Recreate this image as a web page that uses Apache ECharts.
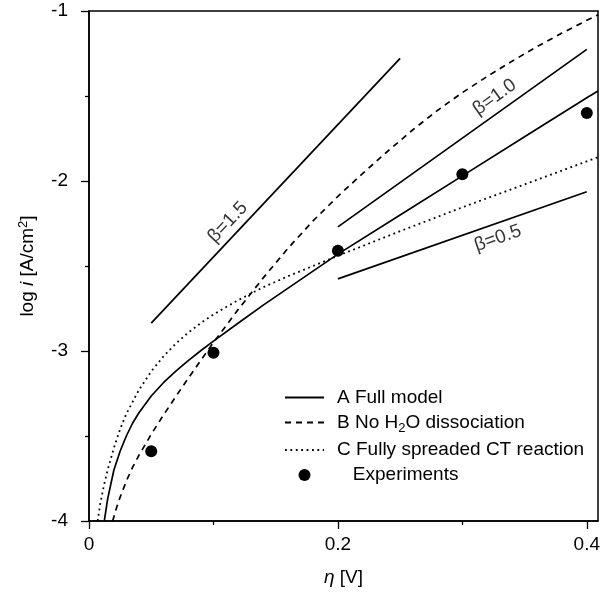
<!DOCTYPE html>
<html>
<head>
<meta charset="utf-8">
<script src="https://cdn.jsdelivr.net/npm/echarts@6/dist/echarts.min.js"></script>
<style>
html,body{margin:0;padding:0;background:#fff;}
#c{width:604px;height:596px;}
</style>
</head>
<body>
<div id="c"></div>
<script>
// ---- data ----
const xTickLabels = [0, 0.2, 0.4];
const xMinorTicks = [0.1, 0.3];

const etaA = [0.0123, 0.015, 0.02, 0.025, 0.03, 0.035, 0.04, 0.05, 0.06, 0.07, 0.08, 0.09, 0.10, 0.12, 0.14, 0.16, 0.18, 0.20, 0.25, 0.30, 0.35, 0.40, 0.409];
const logA = [-4.00, -3.87, -3.70, -3.59, -3.50, -3.425, -3.365, -3.265, -3.185, -3.117, -3.055, -2.997, -2.942, -2.835, -2.73, -2.63, -2.53, -2.43, -2.20, -1.97, -1.74, -1.51, -1.47];

const etaB = [0.019, 0.022, 0.025, 0.03, 0.035, 0.04, 0.05, 0.06, 0.07, 0.08, 0.09, 0.10, 0.12, 0.14, 0.16, 0.18, 0.20, 0.22, 0.24, 0.26, 0.28, 0.30, 0.32, 0.34, 0.36, 0.38, 0.40, 0.409];
const logB = [-4.00, -3.925, -3.86, -3.765, -3.685, -3.615, -3.49, -3.375, -3.265, -3.158, -3.053, -2.95, -2.755, -2.57, -2.395, -2.235, -2.09, -1.955, -1.825, -1.70, -1.585, -1.48, -1.385, -1.295, -1.21, -1.13, -1.055, -1.022];

const etaC = [0.007, 0.009, 0.012, 0.015, 0.02, 0.025, 0.03, 0.04, 0.05, 0.06, 0.07, 0.08, 0.09, 0.10, 0.12, 0.14, 0.16, 0.18, 0.20, 0.25, 0.30, 0.35, 0.409];
const logC = [-4.00, -3.90, -3.79, -3.70, -3.57, -3.46, -3.37, -3.23, -3.12, -3.03, -2.955, -2.89, -2.835, -2.785, -2.70, -2.625, -2.56, -2.50, -2.44, -2.295, -2.155, -2.02, -1.86];

const etaExp = [0.05, 0.1, 0.2, 0.3, 0.4];
const logExp = [-3.59, -3.01, -2.41, -1.96, -1.60];

// Tafel reference lines: [eta, log i] endpoints
const beta15 = [[0.05, -2.836], [0.25, -1.279]];
const beta10 = [[0.2, -2.27], [0.4, -1.226]];
const beta05 = [[0.2, -2.576], [0.4, -2.063]];
const betaLabels = ['β=1.5', 'β=1.0', 'β=0.5'];
const betaLabelPos = [[0.1116, -2.243], [0.326, -1.507], [0.3285, -2.337]];
const betaLabelRot = [46.7, 35.5, 19.3];

const seriesNames = ['A Full model', 'B No H2O dissociation', 'C Fully spreaded CT reaction', 'Experiments'];

// ---- chart ----
const FONT = 'Liberation Sans, Arial, Helvetica, sans-serif';
const FS = 19;
const zip = (a, b) => a.map((v, i) => [v, b[i]]);
const chart = echarts.init(document.getElementById('c'), null, {renderer: 'canvas'});

const lineBase = {type: 'line', symbol: 'none', showSymbol: false, smooth: false, clip: true, z: 3};

chart.setOption({
  animation: false,
  backgroundColor: '#fff',
  textStyle: {fontFamily: FONT, color: '#000'},
  grid: {left: 89, right: 6, top: 11, bottom: 75, show: true, borderColor: '#000', borderWidth: 1.5, backgroundColor: 'transparent'},
  xAxis: [{
    type: 'value', min: 0, max: 0.409, position: 'bottom',
    axisLine: {show: true, onZero: false, lineStyle: {color: '#000', width: 1.5}},
    axisTick: {show: true, inside: false, length: 8, customValues: xTickLabels, lineStyle: {color: '#000', width: 1.3}},
    axisLabel: {customValues: xTickLabels, margin: 14, fontSize: FS, color: '#000', fontFamily: FONT,
      formatter: v => (v === 0 ? '0' : String(v))},
    splitLine: {show: false},
    name: '{it|η} [V]', nameLocation: 'middle', nameGap: 47,
    nameTextStyle: {fontSize: FS, color: '#000', fontFamily: FONT,
      rich: {it: {fontStyle: 'italic', fontSize: FS, fontFamily: FONT}}}
  }, {
    type: 'value', min: 0, max: 0.409, position: 'bottom',
    axisLine: {show: false},
    axisTick: {show: true, inside: false, length: 4, customValues: xMinorTicks, lineStyle: {color: '#000', width: 1.3}},
    axisLabel: {show: false},
    splitLine: {show: false}
  }],
  yAxis: {
    type: 'value', min: -4, max: -1, interval: 1,
    axisLine: {show: true, onZero: false, lineStyle: {color: '#000', width: 1.5}},
    axisTick: {show: true, inside: false, length: 8, lineStyle: {color: '#000', width: 1.3}},
    minorTick: {show: true, splitNumber: 2, length: 4, lineStyle: {color: '#000', width: 1.3}},
    axisLabel: {margin: 21, fontSize: FS, color: '#000', fontFamily: FONT},
    splitLine: {show: false},
    name: 'log {it|i} [A/cm{sup|2}]', nameLocation: 'middle', nameGap: 50, nameRotate: 90,
    nameTextStyle: {fontSize: FS, color: '#000', fontFamily: FONT,
      rich: {it: {fontStyle: 'italic', fontSize: FS, fontFamily: FONT},
             sup: {fontSize: 13, verticalAlign: 'bottom', padding: [0, 0, 9, 0], fontFamily: FONT}}}
  },
  legend: {
    orient: 'vertical', left: 279, top: 383, itemWidth: 39, itemHeight: 12, itemGap: 6,
    data: [
      {name: seriesNames[0], itemStyle: {opacity: 0}},
      {name: seriesNames[1], itemStyle: {opacity: 0}},
      {name: seriesNames[2], itemStyle: {opacity: 0}},
      {name: seriesNames[3], itemStyle: {opacity: 1}}
    ],
    textStyle: {fontSize: FS, color: '#000', fontFamily: FONT, padding: [0, 0, 0, 8],
      rich: {sub: {fontSize: 13, verticalAlign: 'top', padding: [11, 0, 0, 0], fontFamily: FONT}}},
    formatter: n => n === seriesNames[1] ? 'B No H{sub|2}O dissociation' : (n === seriesNames[3] ? '   ' + n : n)
  },
  series: [
    Object.assign({}, lineBase, {name: seriesNames[0], data: zip(etaA, logA), lineStyle: {color: '#000', width: 1.7, type: 'solid'}, itemStyle: {color: '#000'}}),
    Object.assign({}, lineBase, {name: seriesNames[1], data: zip(etaB, logB), lineStyle: {color: '#000', width: 1.7, type: [6, 5]}, itemStyle: {color: '#000'}}),
    Object.assign({}, lineBase, {name: seriesNames[2], data: zip(etaC, logC), lineStyle: {color: '#000', width: 1.8, type: [1.8, 3.6]}, itemStyle: {color: '#000'}}),
    {type: 'line', name: 'beta15', symbol: 'none', data: beta15, lineStyle: {color: '#000', width: 1.7}, z: 3},
    {type: 'line', name: 'beta10', symbol: 'none', data: beta10, lineStyle: {color: '#000', width: 1.7}, z: 3},
    {type: 'line', name: 'beta05', symbol: 'none', data: beta05, lineStyle: {color: '#000', width: 1.7}, z: 3},
    {type: 'scatter', name: seriesNames[3], data: zip(etaExp, logExp), symbol: 'circle', symbolSize: 12, itemStyle: {color: '#000', opacity: 1}, z: 5},
    {type: 'scatter', name: 'betaLabels', symbolSize: 0, silent: true, z: 6,
      data: betaLabelPos.map((p, i) => ({value: p, label: {show: true, formatter: betaLabels[i], rotate: betaLabelRot[i],
        position: 'inside', align: 'center', verticalAlign: 'middle', fontSize: FS, color: '#000', fontFamily: FONT}}))}
  ]
});
</script>
</body>
</html>
